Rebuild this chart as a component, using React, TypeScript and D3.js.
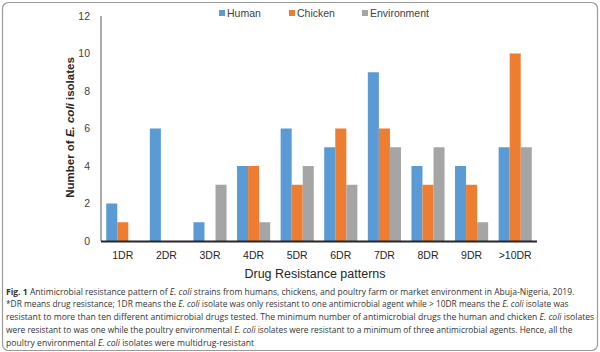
import React, { useEffect, useRef } from 'react';
import * as d3 from 'd3';

const categories = ['1DR', '2DR', '3DR', '4DR', '5DR', '6DR', '7DR', '8DR', '9DR', '>10DR'];
const seriesNames = ['Human', 'Chicken', 'Environment'];
const human = [2, 6, 1, 4, 6, 5, 9, 4, 4, 5];
const chicken = [1, 0, 0, 4, 3, 6, 6, 3, 3, 10];
const environment = [0, 0, 3, 1, 4, 3, 5, 5, 1, 5];
const yTicks = [0, 2, 4, 6, 8, 10, 12];
const colors = ['#5B9BD5', '#ED7D31', '#A5A5A5'];

// caption lines: [text, style] segments ; b = bold, i = italic
const captionLines: [string, string][][] = [
  [['Fig. 1', 'b'], ['  Antimicrobial resistance pattern of ', ''], ['E. coli', 'i'], [' strains from humans, chickens, and poultry farm or market environment in Abuja-Nigeria, 2019.', '']],
  [['*DR means drug resistance; 1DR means the ', ''], ['E. coli', 'i'], [' isolate was only resistant to one antimicrobial agent while > 10DR means the ', ''], ['E. coli', 'i'], [' isolate was', '']],
  [['resistant to more than ten different antimicrobial drugs tested. The minimum number of antimicrobial drugs the human and chicken ', ''], ['E. coli', 'i'], [' isolates', '']],
  [['were resistant to was one while the poultry environmental ', ''], ['E. coli', 'i'], [' isolates were resistant to a minimum of three antimicrobial agents. Hence, all the', '']],
  [['poultry environmental ', ''], ['E. coli', 'i'], [' isolates were multidrug-resistant', '']],
];
const captionWidths = [568, 563, 588, 567, 248];

const App = () => {
  const svgRef = useRef<SVGSVGElement>(null);

  useEffect(() => {
    const svg = d3.select(svgRef.current);
    svg.selectAll('*').remove();

    const width = 600;
    const height = 352;
    const left = 101, right = 537, top = 16, bottom = 241;

    // outer frame
    svg.append('rect')
      .attr('x', 2.5).attr('y', 2.5)
      .attr('width', width - 5).attr('height', height - 4)
      .attr('rx', 6)
      .attr('fill', '#fff')
      .attr('stroke', '#9a9a9a')
      .attr('stroke-width', 1.2);

    const x0 = d3.scaleBand().domain(categories).range([left, right])
      .paddingInner(0.24).paddingOuter(0.12);
    const x1 = d3.scaleBand().domain(seriesNames).range([0, x0.bandwidth()]);
    const y = d3.scaleLinear().domain([0, 12]).range([bottom, top]);

    const series = [human, chicken, environment];

    // bars
    seriesNames.forEach((name, si) => {
      svg.append('g')
        .selectAll('rect')
        .data(series[si])
        .enter()
        .append('rect')
        .attr('x', (d, i) => (x0(categories[i]) as number) + (x1(name) as number))
        .attr('y', d => y(d))
        .attr('width', x1.bandwidth())
        .attr('height', d => bottom - y(d))
        .attr('fill', colors[si]);
    });

    // y axis line
    svg.append('line')
      .attr('x1', left).attr('x2', left)
      .attr('y1', top).attr('y2', bottom)
      .attr('stroke', '#595959').attr('stroke-width', 1);

    // x axis line
    svg.append('line')
      .attr('x1', left).attr('x2', right)
      .attr('y1', bottom + 0.5).attr('y2', bottom + 0.5)
      .attr('stroke', '#262626').attr('stroke-width', 1.8);

    const font = "'Liberation Sans', Arial, sans-serif";

    // y tick labels
    svg.append('g')
      .selectAll('text')
      .data(yTicks)
      .enter()
      .append('text')
      .attr('x', 90)
      .attr('y', d => y(d))
      .attr('dy', '0.35em')
      .attr('text-anchor', 'end')
      .attr('font-family', font)
      .attr('font-size', 10.5)
      .attr('fill', '#404040')
      .text(d => d);

    // x tick labels
    svg.append('g')
      .selectAll('text')
      .data(categories)
      .enter()
      .append('text')
      .attr('x', d => (x0(d) as number) + x0.bandwidth() / 2)
      .attr('y', 258.5)
      .attr('text-anchor', 'middle')
      .attr('font-family', font)
      .attr('font-size', 10.5)
      .attr('fill', '#262626')
      .text(d => d);

    // y axis title
    const yTitle = svg.append('text')
      .attr('transform', `translate(74, ${(top + bottom) / 2 - 1}) rotate(-90)`)
      .attr('text-anchor', 'middle')
      .attr('font-family', font)
      .attr('font-size', 11.5)
      .attr('font-weight', 'bold')
      .attr('fill', '#262626');
    yTitle.append('tspan').text('Number of ');
    yTitle.append('tspan').attr('font-style', 'italic').text('E. coli');
    yTitle.append('tspan').text(' isolates');

    // x axis title
    svg.append('text')
      .attr('x', 315)
      .attr('y', 278)
      .attr('text-anchor', 'middle')
      .attr('font-family', font)
      .attr('font-size', 12.5)
      .attr('fill', '#262626')
      .text('Drug Resistance patterns');

    // legend
    const legendX = [219, 289, 362];
    seriesNames.forEach((name, i) => {
      svg.append('rect')
        .attr('x', legendX[i]).attr('y', 10)
        .attr('width', 6).attr('height', 6)
        .attr('fill', colors[i]);
      svg.append('text')
        .attr('x', legendX[i] + 8)
        .attr('y', 13)
        .attr('dy', '0.35em')
        .attr('font-family', font)
        .attr('font-size', 10.5)
        .attr('fill', '#404040')
        .text(name);
    });

    // caption: each line squeezed horizontally to the width seen in the figure
    captionLines.forEach((line, li) => {
      const ty = 294.5 + li * 12.8;
      const t = svg.append('text')
        .attr('x', 0)
        .attr('y', 0)
        .attr('font-family', "'Open Sans', sans-serif")
        .attr('font-size', 9.2)
        .attr('fill', '#333');
      line.forEach(([txt, st]) => {
        const sp = t.append('tspan').text(txt);
        if (st === 'b') sp.attr('font-weight', 'bold');
        if (st === 'i') sp.attr('font-style', 'italic');
      });
      const natural = (t.node() as SVGTextElement).getComputedTextLength() || captionWidths[li];
      const sx = captionWidths[li] / natural;
      t.attr('transform', `translate(6, ${ty}) scale(${sx}, 1)`);
    });
  }, []);

  return (
    <svg
      ref={svgRef}
      width={600}
      height={352}
      style={{ position: 'absolute', left: 0, top: 0, background: '#fff' }}
    />
  );
};

export default App;
